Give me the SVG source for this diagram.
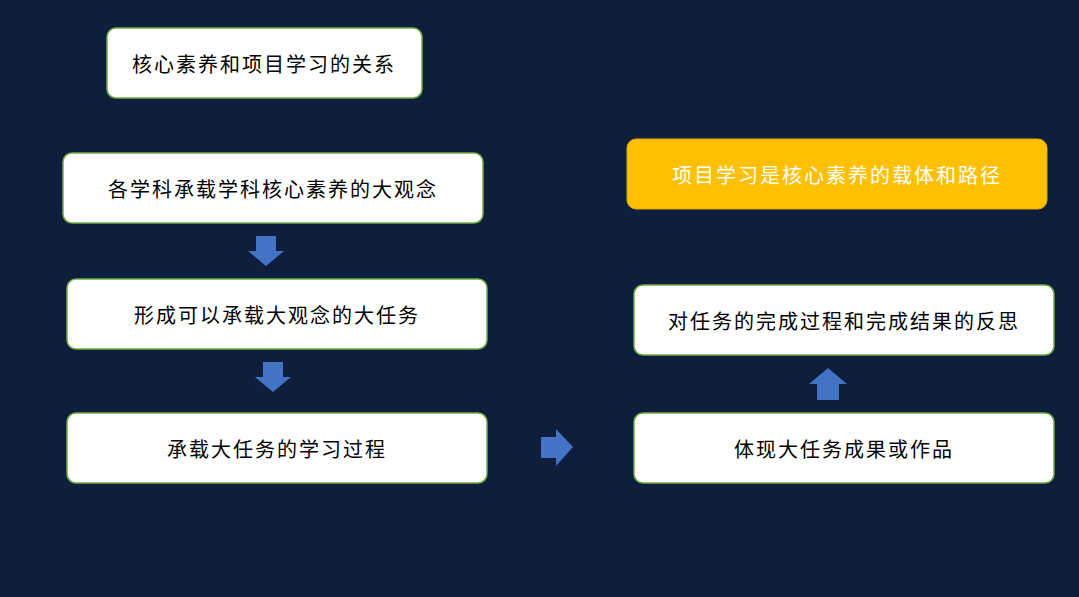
<svg xmlns="http://www.w3.org/2000/svg" width="1079" height="597" viewBox="0 0 1079 597">
<style>
.b{fill:#fff;stroke:#70ad47;stroke-width:1.5}
.t{font-family:"Noto Sans CJK SC",sans-serif;font-size:20px;text-anchor:middle;dominant-baseline:central;fill:#000;letter-spacing:2px}
.a{fill:#4472c4}
</style>
<rect width="1079" height="597" fill="#0e1e3c"/>
<g id="n0"><rect class="b" x="107" y="28" width="315" height="70" rx="9"/><text class="t" x="264" y="63">核心素养和项目学习的关系</text></g>
<g id="n1"><rect class="b" x="63" y="153" width="420" height="70" rx="9"/><text class="t" x="273" y="188">各学科承载学科核心素养的大观念</text></g>
<g id="n2"><rect class="b" x="67" y="279" width="420" height="70" rx="9"/><text class="t" x="277" y="314">形成可以承载大观念的大任务</text></g>
<g id="n3"><rect class="b" x="67" y="413" width="420" height="70" rx="9"/><text class="t" x="277" y="448">承载大任务的学习过程</text></g>
<g id="n4"><rect x="627" y="139" width="420" height="70" rx="9" fill="#ffc000" stroke="#e0a800"/><text class="t" x="837" y="174" style="fill:#fff">项目学习是核心素养的载体和路径</text></g>
<g id="n5"><rect class="b" x="634" y="285" width="420" height="70" rx="9"/><text class="t" x="844" y="320">对任务的完成过程和完成结果的反思</text></g>
<g id="n6"><rect class="b" x="634" y="413" width="420" height="70" rx="9"/><text class="t" x="844" y="448">体现大任务成果或作品</text></g>
<g id="connectors">
<polygon class="a" points="256,236 276,236 276,251 284,251 266,266 248,251 256,251"/>
<polygon class="a" points="263,362 283,362 283,377 291,377 273,392 255,377 263,377"/>
<polygon class="a" points="541,437 556,437 556,429 573,447 556,466 556,458 541,458"/>
<polygon class="a" points="817,400 839,400 839,384 847,384 828,368 809,384 817,384"/>
</g>
</svg>
